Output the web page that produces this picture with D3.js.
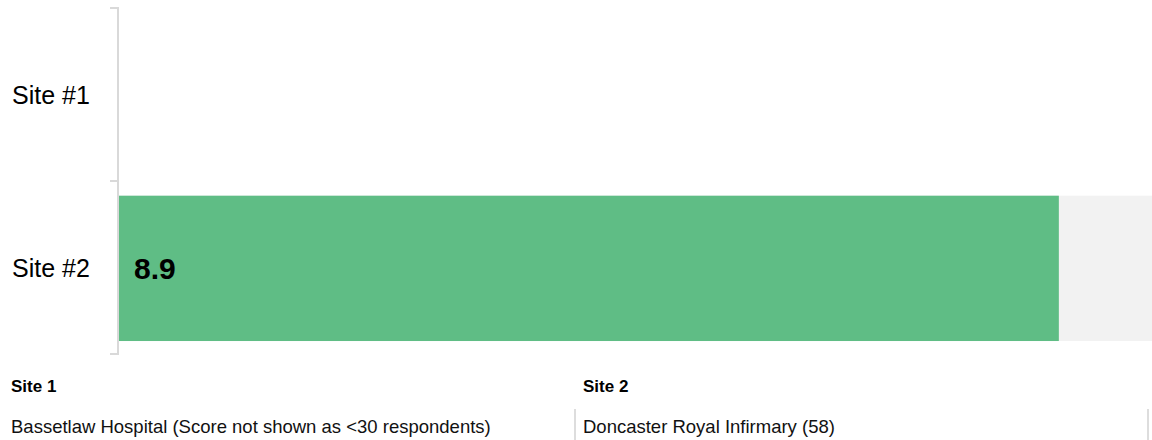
<!DOCTYPE html>
<html>
<head>
<meta charset="utf-8">
<script src="https://cdn.jsdelivr.net/npm/d3@7"></script>
<style>
  body { margin: 0; background: #fff; font-family: Arial, "Liberation Sans", sans-serif; }
  svg { display: block; }
</style>
</head>
<body>
<script>
var sites = ["Site #1", "Site #2"];
var scores = [null, 8.9];
var maxScore = 10;
var siteHeads = ["Site 1", "Site 2"];
var siteNotes = ["Bassetlaw Hospital (Score not shown as <30 respondents)", "Doncaster Royal Infirmary (58)"];

var width = 1152, height = 440;

var svg = d3.select("body")
            .append("svg")
            .attr("width", width)
            .attr("height", height);

var x = d3.scaleLinear()
    .domain([0, maxScore])
    .range([119, 1175]);

var y = d3.scaleBand()
    .domain(sites)
    .range([8, 354]);

var rows = sites.map(function(d, i) { return {site: d, score: scores[i]}; });
var shown = rows.filter(function(d) { return d.score != null; });

// grey background track, only where a score is shown
svg.append("g").selectAll("rect.track")
    .data(shown)
    .enter().append("rect")
    .attr("class", "track")
    .attr("x", x(0))
    .attr("y", function(d) { return y(d.site) + y.bandwidth() * 0.085; })
    .attr("width", x(maxScore) - x(0))
    .attr("height", y.bandwidth() * 0.84)
    .style("fill", "#f2f2f2");

svg.append("g").selectAll("rect.bar")
    .data(shown)
    .enter().append("rect")
    .attr("class", "bar")
    .attr("x", x(0))
    .attr("y", function(d) { return y(d.site) + y.bandwidth() * 0.085; })
    .attr("width", function(d) { return x(d.score) - x(0); })
    .attr("height", y.bandwidth() * 0.84)
    .style("fill", "#5fbd85");

svg.append("g").selectAll("text.val")
    .data(shown)
    .enter().append("text")
    .attr("x", x(0) + 15)
    .attr("y", function(d) { return y(d.site) + y.bandwidth() / 2; })
    .attr("dy", "0.37em")
    .style("font-size", "30px")
    .style("font-weight", "bold")
    .style("fill", "#000")
    .text(function(d) { return d3.format(".1f")(d.score); });

// axis: line plus ticks at band edges
var edges = sites.map(function(d) { return y(d); }).concat([y.range()[1]]);
var axis = svg.append("g").style("stroke", "#d9d9d9").style("stroke-width", 2);
axis.append("line")
    .attr("x1", 118).attr("x2", 118)
    .attr("y1", y.range()[0] - 1).attr("y2", y.range()[1] + 1);
axis.selectAll("line.tick")
    .data(edges)
    .enter().append("line")
    .attr("class", "tick")
    .attr("x1", 110).attr("x2", 118)
    .attr("y1", function(d) { return d; })
    .attr("y2", function(d) { return d; });

svg.append("g").selectAll("text.site")
    .data(sites)
    .enter().append("text")
    .attr("x", 12)
    .attr("y", function(d) { return y(d) + y.bandwidth() / 2; })
    .attr("dy", "0.36em")
    .style("font-size", "25px")
    .style("fill", "#000")
    .text(function(d) { return d; });

// footer table
var colX = [0, 575];
var foot = svg.append("g");
foot.selectAll("text.head")
    .data(siteHeads)
    .enter().append("text")
    .attr("x", function(d, i) { return colX[i] + (i ? 8 : 11); })
    .attr("y", 392)
    .style("font-size", "17px")
    .style("font-weight", "bold")
    .text(function(d) { return d; });

foot.selectAll("text.note")
    .data(siteNotes)
    .enter().append("text")
    .attr("x", function(d, i) { return colX[i] + (i ? 8 : 11); })
    .attr("y", 433)
    .style("font-size", "18.5px")
    .style("fill", "#111")
    .text(function(d) { return d; });

foot.selectAll("line.sep")
    .data([575, 1148])
    .enter().append("line")
    .attr("x1", function(d) { return d; }).attr("x2", function(d) { return d; })
    .attr("y1", 409).attr("y2", 440)
    .style("stroke", "#bbb")
    .style("stroke-width", 1);
</script>
</body>
</html>
